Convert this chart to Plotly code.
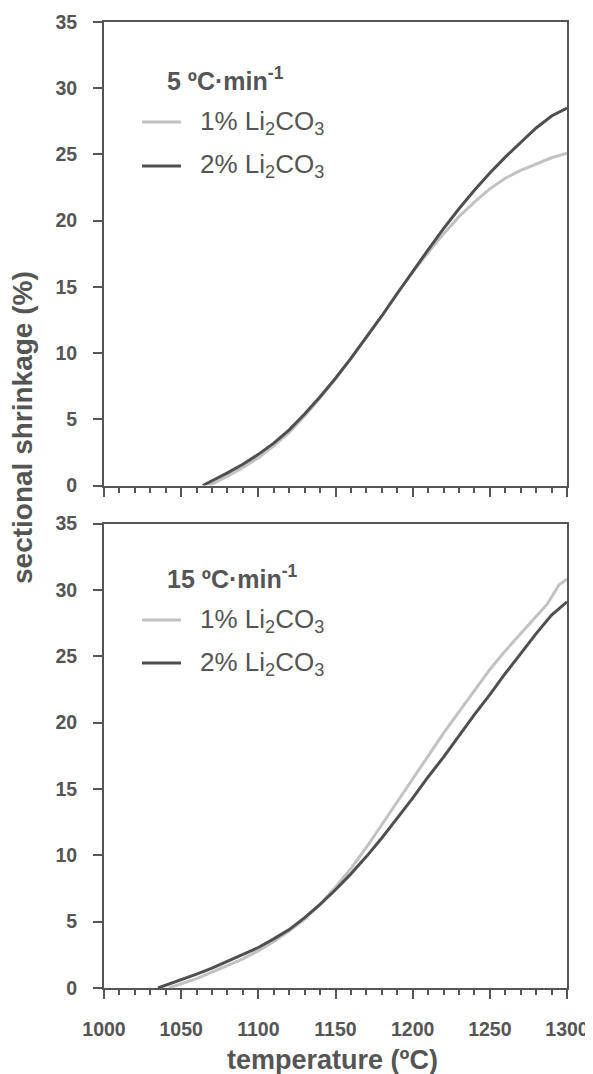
import plotly.graph_objects as go

# ---------------- data ----------------
# 5 ºC/min panel
t5_1 = [1068, 1070, 1080, 1090, 1100, 1110, 1120, 1130, 1140, 1150, 1160, 1170, 1180, 1190,
        1200, 1210, 1220, 1230, 1240, 1250, 1260, 1270, 1280, 1290, 1300]
s5_1 = [0, 0.1, 0.7, 1.35, 2.1, 3.0, 4.0, 5.25, 6.6, 8.05, 9.6, 11.2, 12.8, 14.5,
        16.1, 17.6, 19.0, 20.3, 21.4, 22.4, 23.2, 23.8, 24.3, 24.75, 25.1]
t5_2 = [1064, 1070, 1080, 1090, 1100, 1110, 1120, 1130, 1140, 1150, 1160, 1170, 1180, 1190,
        1200, 1210, 1220, 1230, 1240, 1250, 1260, 1270, 1280, 1290, 1300]
s5_2 = [0, 0.35, 0.95, 1.6, 2.35, 3.2, 4.2, 5.4, 6.7, 8.1, 9.6, 11.2, 12.8, 14.5,
        16.2, 17.8, 19.4, 20.9, 22.3, 23.6, 24.8, 25.9, 27.0, 27.9, 28.5]

# 15 ºC/min panel
t15_1 = [1042, 1050, 1060, 1070, 1080, 1090, 1100, 1110, 1120, 1130, 1140, 1150, 1160, 1170,
         1180, 1190, 1200, 1210, 1220, 1230, 1240, 1250, 1260, 1270, 1280, 1287, 1295, 1300]
s15_1 = [0, 0.3, 0.7, 1.2, 1.7, 2.2, 2.8, 3.5, 4.3, 5.2, 6.3, 7.6, 9.0, 10.6,
         12.3, 14.0, 15.8, 17.5, 19.2, 20.8, 22.4, 24.0, 25.4, 26.7, 28.0, 28.9, 30.4, 30.8]
t15_2 = [1035, 1040, 1050, 1060, 1070, 1080, 1090, 1100, 1110, 1120, 1130, 1140, 1150, 1160,
         1170, 1180, 1190, 1200, 1210, 1220, 1230, 1240, 1250, 1260, 1270, 1280, 1290, 1300]
s15_2 = [0, 0.2, 0.6, 1.05, 1.5, 2.0, 2.5, 3.05, 3.7, 4.4, 5.3, 6.3, 7.4, 8.6,
         9.9, 11.3, 12.8, 14.3, 15.9, 17.4, 19.0, 20.6, 22.1, 23.7, 25.2, 26.7, 28.1, 29.1]

series_labels = ["1% Li<sub>2</sub>CO<sub>3</sub>", "2% Li<sub>2</sub>CO<sub>3</sub>"]
panel_titles = ["<b>5 ºC·min<sup>-1</sup></b>", "<b>15 ºC·min<sup>-1</sup></b>"]
x_title = "<b>temperature (ºC)</b>"
y_title = "<b>sectional shrinkage (%)</b>"
x_ticks = [1000, 1050, 1100, 1150, 1200, 1250, 1300]
y_ticks = [0, 5, 10, 15, 20, 25, 30, 35]

# ---------------- style ----------------
OFF = 8  # page body margin
W, H = 593 - OFF, 1074 - OFF
PLOT_L, PLOT_R, PLOT_T, PLOT_B = 104, 567, 22, 988  # page pixel coords of plot area
L, T = PLOT_L - OFF, PLOT_T - OFF
R, B = W - (PLOT_R - OFF), H - (PLOT_B - OFF)
PW, PH = W - L - R, H - T - B
LIGHT = "#c2c2c2"
DARK = "#4f4f4f"
AX = "#555555"
FONT = "Liberation Sans, Arial, sans-serif"


def px(xp):
    return (xp - PLOT_L) / PW


def py(yp):
    return (PLOT_B - yp) / PH


fig = go.Figure()
fig.add_trace(go.Scatter(x=t5_1, y=s5_1, mode="lines", line=dict(color=LIGHT, width=3),
                         xaxis="x", yaxis="y", showlegend=False))
fig.add_trace(go.Scatter(x=t5_2, y=s5_2, mode="lines", line=dict(color=DARK, width=3),
                         xaxis="x", yaxis="y", showlegend=False))
fig.add_trace(go.Scatter(x=t15_1, y=s15_1, mode="lines", line=dict(color=LIGHT, width=3),
                         xaxis="x2", yaxis="y2", showlegend=False))
fig.add_trace(go.Scatter(x=t15_2, y=s15_2, mode="lines", line=dict(color=DARK, width=3),
                         xaxis="x2", yaxis="y2", showlegend=False))

tickfont = dict(family=FONT, size=19.5, color=AX, weight="bold")
common_x = dict(range=[1000, 1300], tickvals=x_ticks, showline=True, mirror=True,
                linecolor=AX, linewidth=2, ticks="outside", ticklen=9, tickwidth=2,
                tickcolor=AX, showgrid=False, zeroline=False, tickfont=tickfont,
                automargin=False, ticklabeloverflow="allow",
                minor=dict(dtick=10, ticks="outside", ticklen=5, tickwidth=2, tickcolor=AX,
                           showgrid=False))
common_y = dict(range=[0, 35], tickvals=y_ticks, showline=True, mirror=True,
                linecolor=AX, linewidth=2, ticks="outside", ticklen=9, tickwidth=2,
                tickcolor=AX, showgrid=False, zeroline=False, tickfont=tickfont,
                ticklabelstandoff=12, automargin=False)

top_dom = [py(485.5), 1]
bot_dom = [0, py(523.5)]

fig.update_layout(
    width=W, height=H,
    margin=dict(l=L, r=R, t=T, b=B, autoexpand=False),
    paper_bgcolor="white", plot_bgcolor="white",
    xaxis=dict(common_x, domain=[0, 1], anchor="y", showticklabels=False),
    yaxis=dict(common_y, domain=top_dom, anchor="x"),
    xaxis2=dict(common_x, domain=[0, 1], anchor="y2", ticklabelstandoff=14),
    yaxis2=dict(common_y, domain=bot_dom, anchor="x2"),
    showlegend=False,
)

# axis titles
fig.add_annotation(text=x_title, xref="paper", yref="paper", x=px(332), y=py(1060),
                   xanchor="center", yanchor="middle", showarrow=False,
                   font=dict(family=FONT, size=27, color=AX))
fig.add_annotation(text=y_title, textangle=-90,
                   xref="paper", yref="paper", x=px(22), y=py(428),
                   xanchor="center", yanchor="middle",
                   showarrow=False, font=dict(family=FONT, size=28, color=AX))

# in-plot legends
legend_rows = [
    (panel_titles[0], 79, [122, 166]),
    (panel_titles[1], 577, [620, 663]),
]
for title, ty, rows in legend_rows:
    fig.add_annotation(text=title, xref="paper", yref="paper", x=px(166), y=py(ty),
                       xanchor="left", yanchor="middle", showarrow=False, borderpad=0,
                       font=dict(family=FONT, size=25, color=AX))
    for lbl, color, ry in zip(series_labels, [LIGHT, DARK], rows):
        fig.add_shape(type="line", xref="paper", yref="paper",
                      x0=px(142), x1=px(181), y0=py(ry), y1=py(ry),
                      line=dict(color=color, width=3))
        fig.add_annotation(text=lbl, xref="paper", yref="paper", x=px(199), y=py(ry),
                           xanchor="left", yanchor="middle", showarrow=False, borderpad=0,
                           font=dict(family=FONT, size=26, color=AX))

fig.write_html("out.html")
